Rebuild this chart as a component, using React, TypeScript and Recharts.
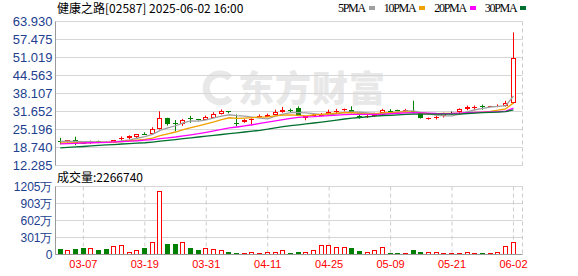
import React from "react";
import { ComposedChart, Bar, Line, XAxis, YAxis, CartesianGrid } from "recharts";

// 60 trading days, 03-04 .. 06-02
const dates = [
  "03-04", "03-05", "03-06", "03-07", "03-10", "03-11", "03-12", "03-13", "03-14", "03-17",
  "03-18", "03-19", "03-20", "03-21", "03-24", "03-25", "03-26", "03-27", "03-28", "03-31",
  "04-01", "04-02", "04-03", "04-07", "04-08", "04-09", "04-10", "04-11", "04-14", "04-15",
  "04-16", "04-17", "04-22", "04-23", "04-24", "04-25", "04-28", "04-29", "04-30", "05-02",
  "05-06", "05-07", "05-08", "05-09", "05-12", "05-13", "05-14", "05-15", "05-16", "05-19",
  "05-20", "05-21", "05-22", "05-23", "05-26", "05-27", "05-28", "05-29", "05-30", "06-02",
];

const opens = [
  21.0, 20.6, 21.3, 20.5, 20.2, 21.0, 20.7, 20.4, 21.9, 22.0,
  22.6, 23.7, 23.6, 25.4, 29.2, 27.4, 27.0, 29.2, 28.8, 28.7,
  29.5, 30.8, 31.7, 27.7, 27.8, 28.7, 29.6, 29.8, 30.4, 31.4,
  32.3, 32.8, 29.5, 30.1, 30.3, 30.7, 31.5, 32.2, 32.3, 30.1,
  29.6, 30.0, 31.1, 32.0, 32.1, 31.9, 31.9, 31.1, 29.2, 29.4,
  30.0, 31.1, 31.4, 32.6, 33.0, 33.6, 33.4, 33.4, 33.6, 34.8,
];
const highs = [
  22.2, 21.4, 22.6, 20.8, 21.2, 21.2, 20.9, 21.4, 22.7, 23.1,
  23.6, 24.2, 26.0, 31.7, 29.4, 28.6, 29.0, 30.1, 28.9, 30.2,
  31.4, 32.4, 31.8, 30.6, 28.9, 29.2, 30.6, 30.9, 32.3, 33.3,
  32.7, 33.5, 30.1, 30.9, 31.1, 32.3, 32.6, 32.7, 33.5, 30.6,
  30.4, 31.2, 32.6, 32.5, 32.3, 32.6, 35.5, 31.2, 29.5, 30.0,
  31.2, 31.6, 32.8, 33.8, 33.8, 34.1, 33.7, 34.2, 35.5, 60.0,
];
const lows = [
  19.9, 20.5, 19.6, 20.1, 20.1, 20.3, 20.4, 20.3, 21.2, 21.7,
  22.0, 23.2, 23.5, 25.2, 26.6, 24.6, 26.5, 27.6, 28.4, 28.6,
  29.3, 30.6, 31.0, 26.4, 27.6, 26.7, 29.4, 29.6, 30.3, 31.2,
  31.4, 30.0, 28.5, 30.0, 30.0, 30.6, 30.8, 31.7, 31.0, 29.1,
  29.3, 29.8, 31.0, 31.2, 31.8, 31.5, 30.9, 29.1, 28.7, 28.8,
  29.5, 30.6, 30.8, 32.1, 32.3, 32.3, 33.3, 33.2, 33.4, 34.5,
];
const closes = [
  20.9, 21.3, 20.7, 20.3, 21.1, 20.5, 20.6, 21.3, 22.1, 22.8,
  23.5, 23.6, 25.2, 29.3, 27.3, 27.3, 28.7, 29.0, 28.6, 29.6,
  30.8, 31.9, 31.5, 27.0, 28.7, 29.1, 30.1, 30.3, 31.6, 32.3,
  31.8, 30.1, 29.9, 30.4, 30.5, 31.4, 32.0, 32.4, 31.2, 29.9,
  30.2, 31.0, 32.3, 31.8, 32.0, 32.1, 31.2, 29.2, 29.4, 29.6,
  31.0, 31.1, 32.6, 33.3, 33.4, 33.4, 33.6, 33.7, 34.6, 50.8,
];
// 成交量, in 万
const volumes = [
  106, 83, 106, 118, 118, 88, 106, 153, 171, 53,
  71, 123, 224, 1129, 194, 188, 224, 123, 88, 118,
  106, 83, 53, 35, 35, 47, 35, 53, 53, 71,
  35, 53, 53, 71, 176, 176, 141, 141, 123, 59,
  47, 83, 141, 35, 35, 35, 88, 53, 53, 53,
  35, 35, 20, 53, 35, 20, 35, 53, 159, 226.674,
];

const ma5 = [
  20.9, 21.0, 20.9, 20.8, 20.86, 20.78, 20.64, 20.76, 21.12, 21.46,
  22.06, 22.66, 23.44, 24.88, 25.78, 26.54, 27.56, 28.32, 28.18, 28.64,
  29.34, 29.98, 30.48, 30.16, 29.98, 29.64, 29.28, 29.04, 29.96, 30.68,
  31.22, 31.22, 31.14, 30.9, 30.54, 30.46, 30.84, 31.34, 31.5, 31.38,
  31.14, 30.94, 30.92, 31.04, 31.46, 31.84, 31.88, 31.26, 30.78, 30.3,
  30.08, 30.06, 30.74, 31.52, 32.28, 32.76, 33.26, 33.48, 33.74, 37.22,
];
const ma10 = [
  20.4, 20.4, 20.45, 20.5, 20.5, 20.55, 20.6, 20.7, 20.85, 21.16,
  21.42, 21.65, 22.1, 23.0, 23.62, 24.3, 25.11, 25.88, 26.53, 27.21,
  27.94, 28.77, 29.4, 29.17, 29.31, 29.49, 29.63, 29.76, 30.06, 30.33,
  30.43, 30.25, 30.09, 30.43, 30.61, 30.84, 31.03, 31.24, 31.2, 30.96,
  30.8, 30.89, 31.13, 31.27, 31.42, 31.49, 31.41, 31.09, 30.91, 30.88,
  30.96, 30.97, 31.0, 31.15, 31.29, 31.44, 31.68, 32.11, 32.63, 34.75,
];
const ma20 = [
  20.05, 20.15, 20.25, 20.35, 20.45, 20.5, 20.6, 20.75, 20.85, 21.0,
  21.15, 21.35, 21.6, 21.9, 22.2, 22.5, 22.9, 23.3, 23.7, 24.19,
  24.68, 25.21, 25.75, 26.09, 26.47, 26.9, 27.37, 27.82, 28.3, 28.77,
  29.19, 29.51, 29.75, 29.8, 29.96, 30.17, 30.33, 30.5, 30.63, 30.65,
  30.62, 30.57, 30.61, 30.85, 31.02, 31.17, 31.23, 31.17, 31.06, 30.93,
  30.89, 30.94, 31.07, 31.22, 31.36, 31.46, 31.54, 31.6, 31.79, 32.83,
];
const ma30 = [
  18.6, 18.8, 18.95, 19.1, 19.3, 19.5, 19.65, 19.8, 20.0, 20.15,
  20.3, 20.45, 20.7, 21.0, 21.3, 21.6, 21.9, 22.2, 22.5, 22.8,
  23.1, 23.4, 23.7, 24.0, 24.3, 24.6, 24.9, 25.3, 25.8, 26.23,
  26.6, 26.89, 27.2, 27.53, 27.85, 28.21, 28.59, 28.96, 29.26, 29.5,
  29.72, 29.97, 30.21, 30.29, 30.45, 30.6, 30.69, 30.69, 30.72, 30.72,
  30.72, 30.7, 30.73, 30.94, 31.1, 31.24, 31.35, 31.46, 31.58, 32.2,
];

const priceTicks = [12.285, 18.74, 25.196, 31.652, 38.107, 44.563, 51.019, 57.475, 63.93];
const volumeTicks = [0, 301, 602, 903, 1205];
const dateTicks = ["03-07", "03-19", "03-31", "04-11", "04-25", "05-09", "05-21", "06-02"];

const legendItems = [
  { name: "5PMA", key: "ma5", color: "#a0a0a0" },
  { name: "10PMA", key: "ma10", color: "#f0a000" },
  { name: "20PMA", key: "ma20", color: "#ff00ff" },
  { name: "30PMA", key: "ma30", color: "#00702e" },
];

const UP = "#ff0000";
const DOWN = "#008000";
const FLAT = "#000000";
const BORDER = "#999999";
const GRID = "#d6d6d6";
const AXIS_TEXT = "#22408f";
const XPAD = { left: 1, right: 5.2 };

const data = dates.map((date, i) => ({
  date,
  open: opens[i],
  high: highs[i],
  low: lows[i],
  close: closes[i],
  volume: volumes[i],
  ma5: ma5[i],
  ma10: ma10[i],
  ma20: ma20[i],
  ma30: ma30[i],
}));

function candleColor(open: number, close: number) {
  if (close > open) return UP;
  if (close < open) return DOWN;
  return FLAT;
}

function Candle(props: any) {
  const { x, y, width, height, payload } = props;
  const { open, close, high, low } = payload;
  const top = Math.min(y, y + height);
  const h = Math.abs(height);
  const k = high > low ? h / (high - low) : 0;
  const py = (v: number) => top + (high - v) * k;
  const cx = Math.floor(x + width / 2) + 0.5;
  const color = candleColor(open, close);
  const bTop = Math.round(py(Math.max(open, close)));
  const bBot = Math.round(py(Math.min(open, close)));
  let body;
  if (close > open && bBot - bTop >= 2) {
    body = (
      <rect x={cx - 2} y={bTop + 0.5} width={4} height={bBot - bTop - 1} fill="#fff" stroke={color} />
    );
  } else {
    body = (
      <rect x={cx - 2.5} y={bTop} width={5} height={Math.max(bBot - bTop, 1)} fill={color} />
    );
  }
  return (
    <g>
      <line x1={cx} x2={cx} y1={top} y2={top + h} stroke={color} />
      {body}
    </g>
  );
}

function VolumeBar(props: any) {
  const { x, y, width, height, payload } = props;
  const color = payload.close >= payload.open ? UP : DOWN;
  const cx = Math.floor(x + width / 2) + 0.5;
  const yT = Math.round(y);
  const yB = Math.round(y + height);
  if (color === UP && yB - yT >= 3) {
    return <rect x={cx - 2} y={yT + 0.5} width={4} height={yB - yT - 1} fill="#fff" stroke={color} />;
  }
  return <rect x={cx - 2.5} y={yT} width={5} height={Math.max(yB - yT, 1)} fill={color} />;
}

const cjk = '"Noto Sans CJK SC", "Liberation Sans", sans-serif';

export default function App() {
  return (
    <div
      style={{
        position: "absolute",
        left: 0,
        top: 0,
        width: 578,
        height: 276,
        background: "#fff",
        fontFamily: '"Liberation Sans", Arial, sans-serif',
        overflow: "hidden",
      }}
    >
      {/* watermark */}
      <div
        style={{
          position: "absolute",
          left: 238,
          top: 64,
          fontFamily: cjk,
          fontWeight: 900,
          fontSize: 36,
          lineHeight: "44px",
          color: "#e8e8e8",
          letterSpacing: 1,
          whiteSpace: "nowrap",
        }}
      >
        东方财富
      </div>
      <svg style={{ position: "absolute", left: 200, top: 70 }} width={36} height={36}>
        <path d="M30 8 A14 14 0 1 0 30 28" fill="none" stroke="#e8e8e8" strokeWidth={7} />
      </svg>

      <div
        style={{
          position: "absolute",
          left: 57,
          top: 1,
          fontFamily: cjk,
          fontSize: 12,
          lineHeight: "14px",
          color: "#000",
          whiteSpace: "nowrap",
        }}
      >
        健康之路[02587] 2025-06-02 16:00
      </div>

      <div
        style={{
          position: "absolute",
          left: 338,
          top: 1,
          display: "flex",
          alignItems: "center",
          fontFamily: '"Liberation Serif", serif',
          fontSize: 12,
          lineHeight: "14px",
          letterSpacing: -1.3,
          whiteSpace: "nowrap",
        }}
      >
        {legendItems.map((it) => (
          <span key={it.key} style={{ display: "flex", alignItems: "center", marginRight: 9 }}>
            <span>{it.name}</span>
            <span style={{ display: "inline-block", width: 6, height: 4, background: it.color, marginLeft: 4 }} />
          </span>
        ))}
      </div>

      <div style={{ position: "absolute", left: 0, top: 0 }}>
        <ComposedChart width={578} height={176} data={data} margin={{ top: 21.5, right: 55.5, bottom: 10.5, left: 0 }}>
          <CartesianGrid horizontal vertical={false} stroke={GRID} />
          <CartesianGrid horizontal={false} vertical strokeDasharray="4 3" stroke="#cccccc" />
          <XAxis
            dataKey="date"
            ticks={dateTicks}
            interval={0}
            height={0}
            tick={false}
            tickLine={false}
            axisLine={{ stroke: BORDER }}
            padding={XPAD}
          />
          <XAxis
            xAxisId="top"
            dataKey="date"
            orientation="top"
            height={0}
            tick={false}
            tickLine={false}
            axisLine={{ stroke: BORDER }}
            padding={XPAD}
          />
          <YAxis
            domain={[12.285, 63.93]}
            ticks={priceTicks}
            interval={0}
            width={55.5}
            tickSize={0}
            tickMargin={3}
            tickFormatter={(v: number) => v.toFixed(3)}
            tick={{ fill: AXIS_TEXT, fontSize: 13 }}
            axisLine={{ stroke: BORDER }}
          />
          <YAxis
            yAxisId="right"
            orientation="right"
            width={0}
            tick={false}
            tickLine={false}
            axisLine={{ stroke: BORDER }}
          />
          <Bar
            dataKey={(d: any) => [d.low, d.high]}
            barSize={5}
            isAnimationActive={false}
            shape={(p: any) => <Candle {...p} />}
          />
          {legendItems.map((it) => (
            <Line
              key={it.key}
              type="linear"
              dataKey={it.key}
              stroke={it.color}
              strokeWidth={1.3}
              dot={false}
              activeDot={false}
              isAnimationActive={false}
            />
          ))}
        </ComposedChart>
      </div>

      <div
        style={{
          position: "absolute",
          left: 57,
          top: 170,
          fontFamily: cjk,
          fontSize: 12,
          lineHeight: "14px",
          color: "#000",
          whiteSpace: "nowrap",
        }}
      >
        成交量:2266740
      </div>

      <div style={{ position: "absolute", left: 0, top: 170 }}>
        <ComposedChart width={578} height={106} data={data} margin={{ top: 16.5, right: 55.5, bottom: 0, left: 0 }}>
          <CartesianGrid horizontal vertical={false} stroke={GRID} />
          <CartesianGrid horizontal={false} vertical strokeDasharray="4 3" stroke="#cccccc" />
          <XAxis
            dataKey="date"
            ticks={dateTicks}
            interval={0}
            height={21.5}
            tickSize={0}
            tickMargin={6}
            tick={{ fill: "#ff0000", fontSize: 11 }}
            axisLine={{ stroke: BORDER }}
            padding={XPAD}
          />
          <XAxis
            xAxisId="top"
            dataKey="date"
            orientation="top"
            height={0}
            tick={false}
            tickLine={false}
            axisLine={{ stroke: BORDER }}
            padding={XPAD}
          />
          <YAxis
            domain={[0, 1205]}
            ticks={volumeTicks}
            interval={0}
            width={55.5}
            tickSize={0}
            tickMargin={3}
            tickFormatter={(v: number) => (v === 0 ? "0" : `${v}万`)}
            tick={{ fill: AXIS_TEXT, fontSize: 12 }}
            axisLine={{ stroke: BORDER }}
          />
          <YAxis
            yAxisId="right"
            orientation="right"
            width={0}
            tick={false}
            tickLine={false}
            axisLine={{ stroke: BORDER }}
          />
          <Bar
            dataKey="volume"
            barSize={5}
            isAnimationActive={false}
            shape={(p: any) => <VolumeBar {...p} />}
          />
        </ComposedChart>
      </div>
    </div>
  );
}
